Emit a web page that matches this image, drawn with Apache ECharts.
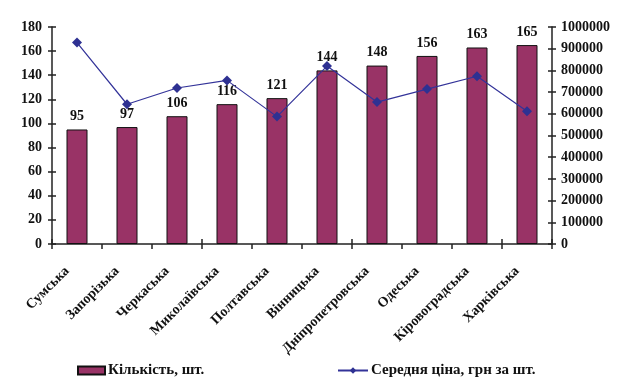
<!DOCTYPE html>
<html>
<head>
<meta charset="utf-8">
<script src="https://cdn.jsdelivr.net/npm/echarts@6/dist/echarts.min.js"></script>
<style>html,body{margin:0;padding:0;background:#fff;}#c{width:636px;height:389px;}</style>
</head>
<body>
<div id="c"></div>
<script>
const categories = ['Сумська','Запорізька','Черкаська','Миколаївська','Полтавська','Вінницька','Дніпропетровська','Одеська','Кіровоградська','Харківська'];
const quantity = [95, 97, 106, 116, 121, 144, 148, 156, 163, 165];
const avgPrice = [928000, 644000, 719000, 754000, 587000, 820000, 654000, 714000, 773000, 612000];
const leftTicks = {min: 0, max: 180, interval: 20};
const rightTicks = {min: 0, max: 1000000, interval: 100000};
const seriesNames = ['Кількість, шт.', 'Середня ціна, грн за шт.'];

const FONT = '"Liberation Serif", "Times New Roman", serif';
const axisColor = '#222';
const txt = {fontFamily: FONT, fontWeight: 'bold', fontSize: 14, color: '#111'};
const legendTxt = {fontFamily: FONT, fontWeight: 'bold', fontSize: 15, color: '#111'};

const chart = echarts.init(document.getElementById('c'), null, {renderer: 'canvas'});
chart.setOption({
  animation: false,
  backgroundColor: '#fff',
  grid: {left: 52, right: 84, top: 27, bottom: 145, containLabel: false},
  legend: [{
    left: 72, top: 358,
    itemWidth: 27, itemHeight: 8, itemGap: 0,
    textStyle: Object.assign({padding: [0, 0, 0, -2]}, legendTxt),
    data: [{name: seriesNames[0], icon: 'rect'}]
  }, {
    left: 332, top: 358,
    itemWidth: 30, itemHeight: 8,
    textStyle: Object.assign({padding: [0, 0, 0, -2]}, legendTxt),
    data: [{name: seriesNames[1]}]
  }],
  xAxis: [{
    type: 'category', data: categories,
    axisLine: {lineStyle: {color: axisColor, width: 1.5}},
    axisTick: {show: true, length: 5, lineStyle: {color: axisColor, width: 1.5}},
    axisLabel: Object.assign({rotate: 45, margin: 15, interval: 0, padding: [0, 14, 0, 0]}, txt),
    splitLine: {show: false}
  }, {
    type: 'category', data: categories, position: 'bottom',
    axisLine: {show: false},
    axisTick: {show: true, inside: true, length: 5, lineStyle: {color: axisColor, width: 1.5}},
    axisLabel: {show: false}, splitLine: {show: false}
  }],
  yAxis: [{
    type: 'value', position: 'left', min: leftTicks.min, max: leftTicks.max, interval: leftTicks.interval,
    axisLine: {show: true, lineStyle: {color: axisColor, width: 1.5}},
    axisTick: {show: true, length: 4, lineStyle: {color: axisColor, width: 1.5}},
    axisLabel: Object.assign({margin: 10}, txt),
    splitLine: {show: false}
  }, {
    type: 'value', position: 'right', min: rightTicks.min, max: rightTicks.max, interval: rightTicks.interval,
    axisLine: {show: true, lineStyle: {color: axisColor, width: 1.5}},
    axisTick: {show: true, length: 4, lineStyle: {color: axisColor, width: 1.5}},
    axisLabel: Object.assign({margin: 9, formatter: v => String(v)}, txt),
    splitLine: {show: false}
  }, {
    type: 'value', position: 'left', min: leftTicks.min, max: leftTicks.max, interval: leftTicks.interval,
    axisLine: {show: false},
    axisTick: {show: true, inside: true, length: 4, lineStyle: {color: axisColor, width: 1.5}},
    axisLabel: {show: false}, splitLine: {show: false}
  }, {
    type: 'value', position: 'right', min: rightTicks.min, max: rightTicks.max, interval: rightTicks.interval,
    axisLine: {show: false},
    axisTick: {show: true, inside: true, length: 4, lineStyle: {color: axisColor, width: 1.5}},
    axisLabel: {show: false}, splitLine: {show: false}
  }],
  series: [{
    name: seriesNames[0], type: 'bar', data: quantity, xAxisIndex: 0, yAxisIndex: 0,
    barWidth: 21,
    itemStyle: {color: '#993366', borderColor: '#111', borderWidth: 1},
    label: Object.assign({show: true, position: 'top', distance: 6}, txt)
  }, {
    name: seriesNames[1], type: 'line', data: avgPrice, xAxisIndex: 0, yAxisIndex: 1,
    symbol: 'diamond', symbolSize: 10,
    lineStyle: {color: '#333399', width: 1.2},
    itemStyle: {color: '#2E3192'},
    z: 3
  }]
});
</script>
</body>
</html>
